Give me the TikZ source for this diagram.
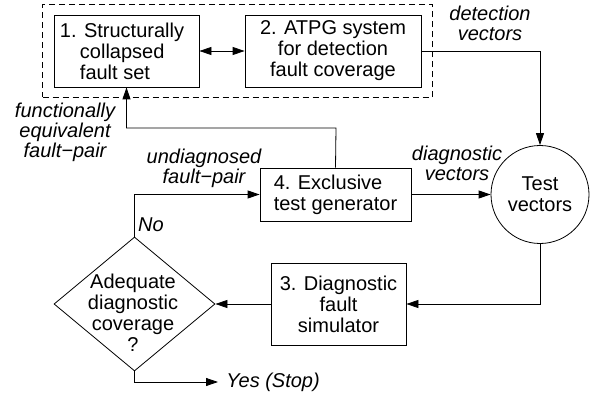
\documentclass[tikz,border=0pt]{standalone}
\usepackage{fontspec}
\setmainfont{Liberation Sans}
\usetikzlibrary{arrows.meta,shapes.geometric,fit}
\begin{document}
\begin{tikzpicture}[x=1pt,y=-1pt,
  font=\fontsize{20}{21}\selectfont,
  line width=0.8pt,
  tip/.tip={Triangle[length=12pt,width=8pt]},
  flow/.style={-tip},
  boxnode/.style={draw,rectangle,inner sep=0pt,align=center},
  lbl/.style={font=\fontsize{20}{20}\selectfont\itshape,align=center,inner sep=0pt}]
\useasboundingbox (0,0) rectangle (595,396);
\node[boxnode,minimum width=145pt,minimum height=72pt,align=left] (b1) at (126.5,51)
  {1. Structurally\hspace*{9pt}\\\hspace*{20pt}collapsed\\\hspace*{20pt}fault set};
\node[boxnode,minimum width=176pt,minimum height=72pt] (b2) at (333,51)
  {2. ATPG system\\for detection\\fault coverage};
\node[draw,dashed,dash pattern=on 6pt off 4pt,inner xsep=11pt,inner ysep=10pt,fit=(b1)(b2)] (grp) {};
\node[boxnode,minimum width=151pt,minimum height=53pt,align=left] (b4) at (335.5,194.5)
  {4. Exclusive\\test generator};
\node[draw,circle,minimum size=98pt,inner sep=0pt,align=center] (tv) at (540,194.5)
  {Test\\vectors};
\node[boxnode,minimum width=135pt,minimum height=82pt] (b3) at (338.5,304)
  {3. Diagnostic\\fault\\simulator};
\node[draw,diamond,minimum width=161pt,minimum height=134pt,inner sep=0pt] (dia) at (134.5,304) {};
\node[align=center,inner sep=0pt] (diat) at (133,313) {Adequate\\diagnostic\\coverage\\?};
% labels
\node[lbl] (ldet) at (490,23) {detection\\vectors};
\node[lbl] (ldiag) at (457,163) {diagnostic\\vectors};
\node[lbl] (lund) at (204,168) {undiagnosed\\fault−pair};
\node[lbl] (lfun) at (65,132) {functionally\\equivalent\\fault−pair};
\node[lbl] (lno) at (151,225) {No};
% connectors
\draw[tip-tip] (b1.east) -- (b2.west);
\draw[flow] (b2.east) -| (tv.north);
\draw[flow] (b4.east) -- (tv.west);
\coordinate (fb) at (336,128);
\draw[flow] (b4.north) -- (fb) -| (b1.south);
\draw[flow] (tv.south) |- (b3.east);
\draw[flow] (b3.west) -- (dia.east);
\draw[flow] (dia.north) |- (b4.west);
\node[lbl,anchor=west,inner xsep=8pt] (yes) at (218,382) {Yes (Stop)};
\draw[flow] (dia.south) |- (yes.west);
\end{tikzpicture}
\end{document}
